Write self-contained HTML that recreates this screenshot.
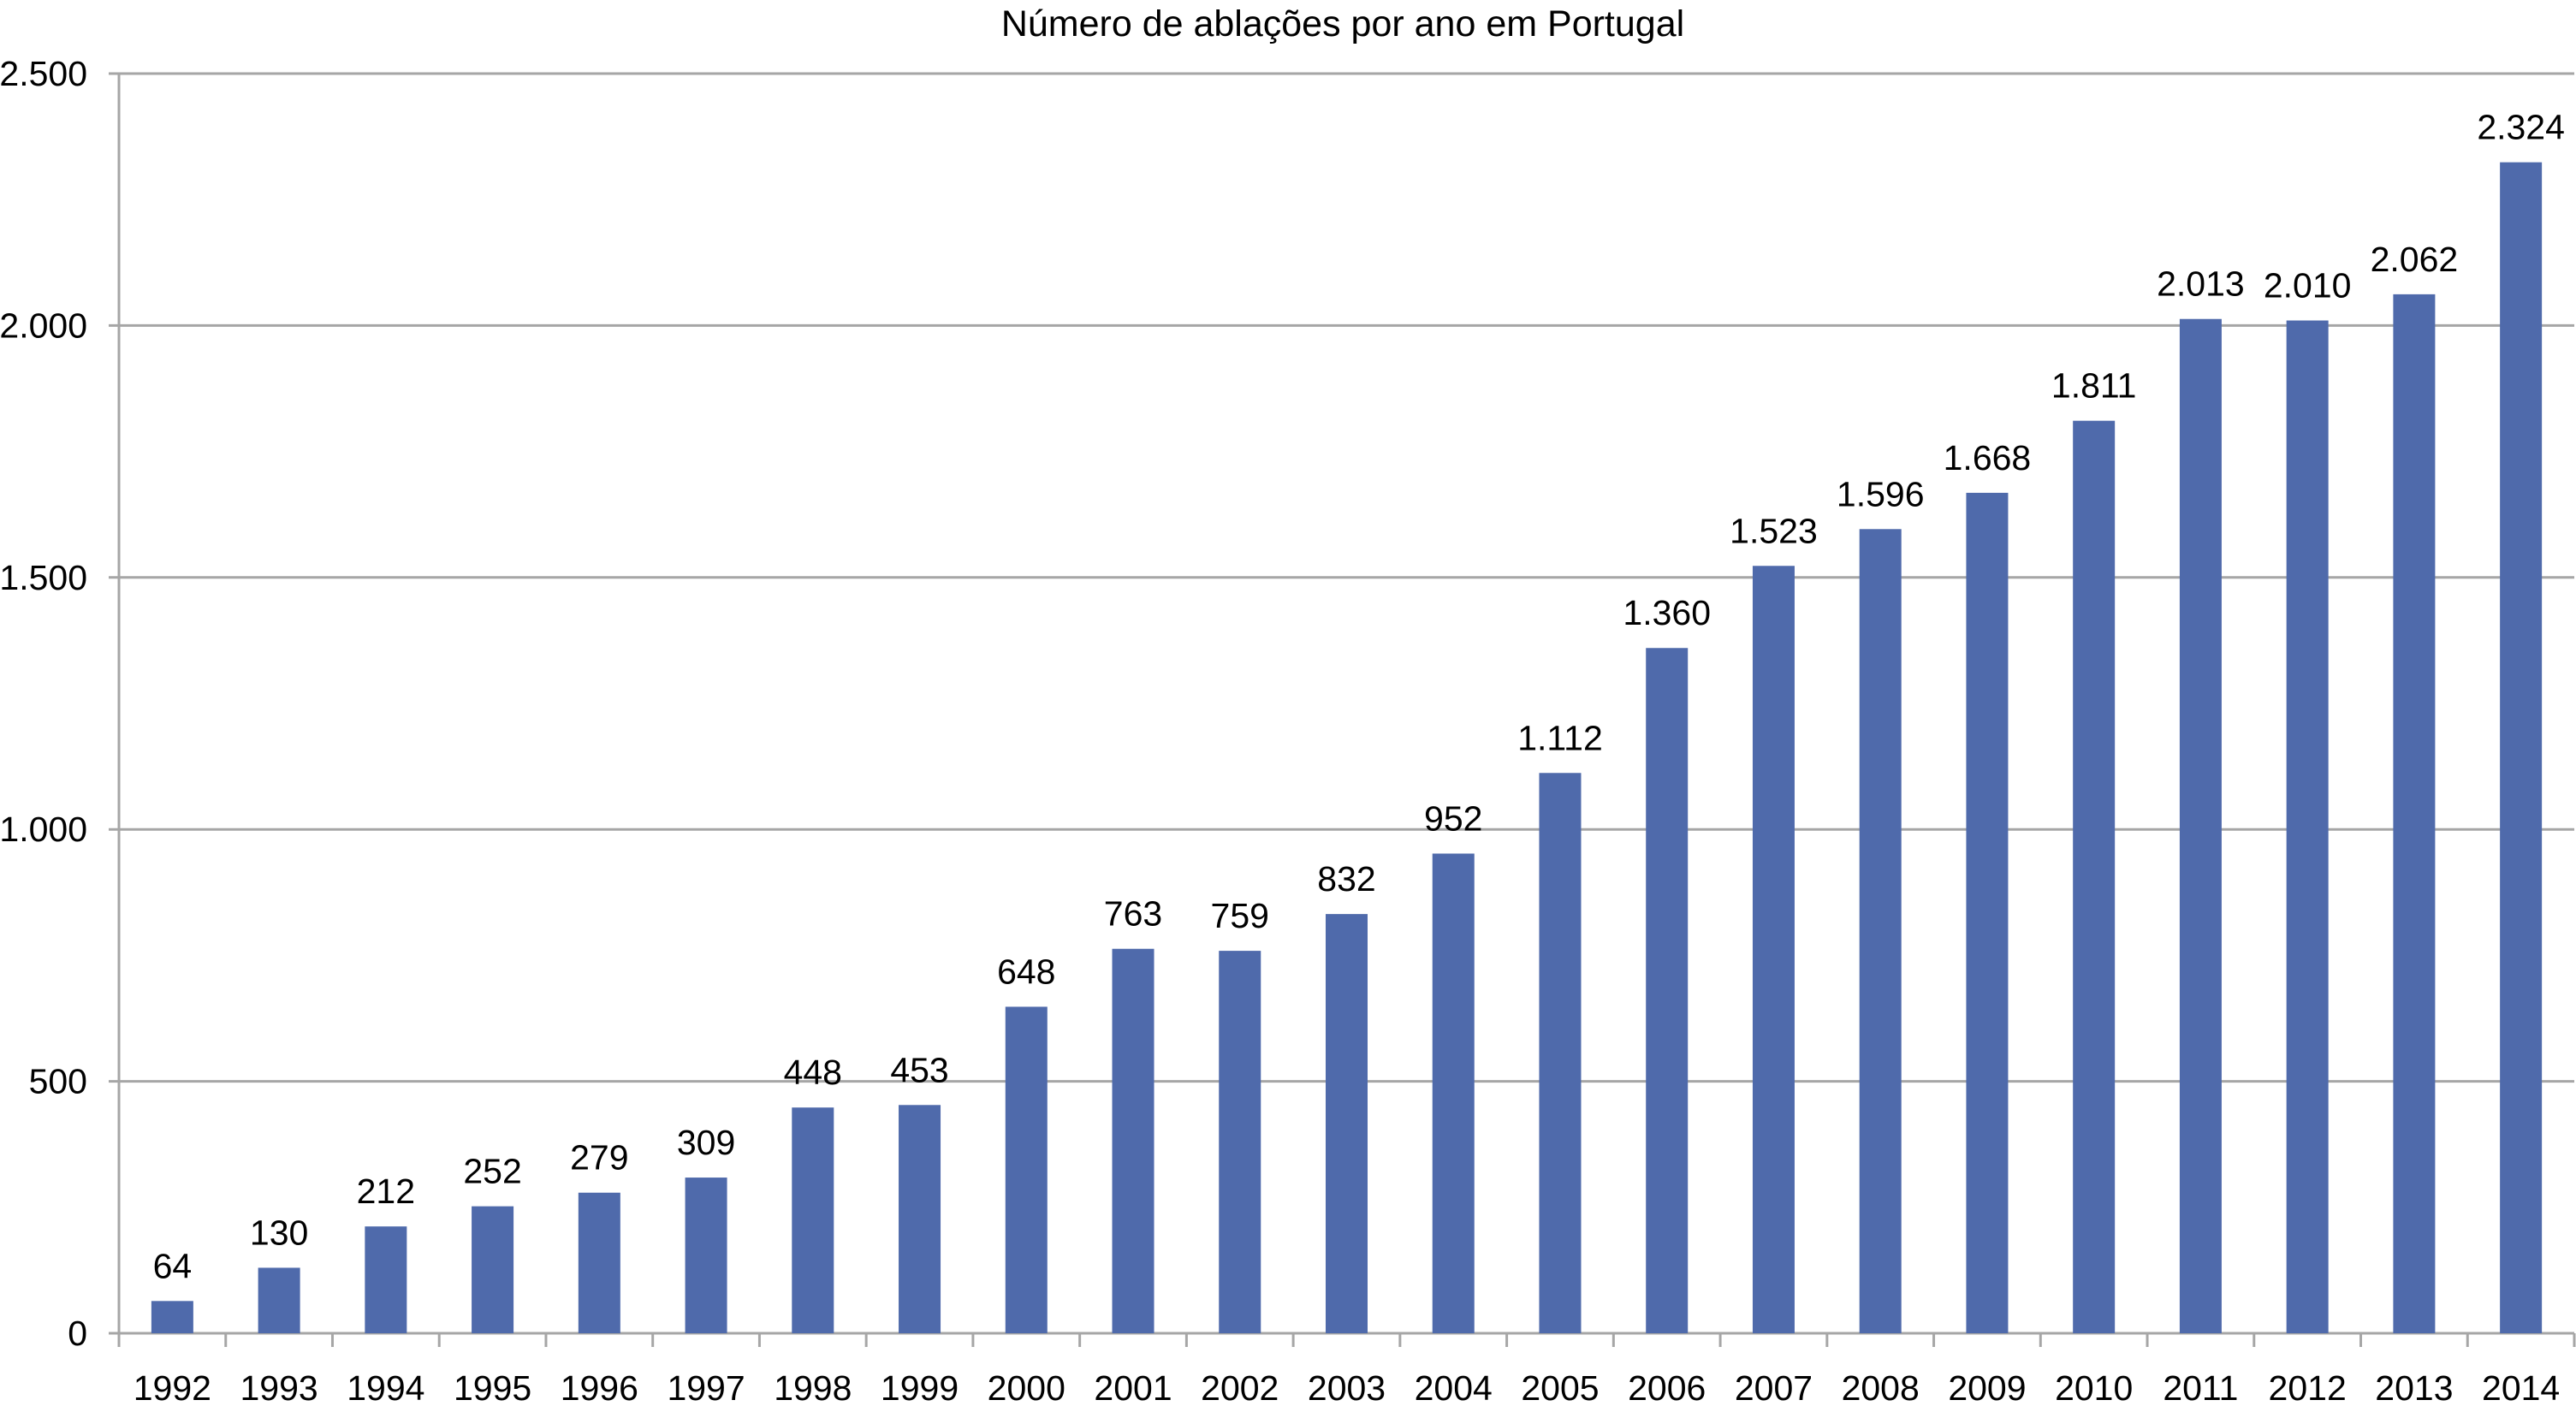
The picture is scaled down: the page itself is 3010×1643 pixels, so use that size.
<!DOCTYPE html>
<html><head><meta charset="utf-8"><style>
html,body{margin:0;padding:0;background:#fff;}
svg{display:block;font-family:"Liberation Sans",Arial,sans-serif;}
</style></head><body>
<svg id="chart" width="3010" height="1643" viewBox="0 0 3010 1643">
<text x="1569" y="42" font-size="43" text-anchor="middle" fill="#000">Número de ablações por ano em Portugal</text>
<g id="grid"></g><g id="bars"></g><g id="axes"></g>
</svg>
<script>
const categories=["1992","1993","1994","1995","1996","1997","1998","1999","2000","2001","2002","2003","2004","2005","2006","2007","2008","2009","2010","2011","2012","2013","2014"];
const values=[64,130,212,252,279,309,448,453,648,763,759,832,952,1112,1360,1523,1596,1668,1811,2013,2010,2062,2324];
const valueLabels=["64","130","212","252","279","309","448","453","648","763","759","832","952","1.112","1.360","1.523","1.596","1.668","1.811","2.013","2.010","2.062","2.324"];
const yTicks=[0,500,1000,1500,2000,2500];
const yTickLabels=["0","500","1.000","1.500","2.000","2.500"];
const NS="http://www.w3.org/2000/svg";
const X0=139,X1=3008,Y0=1558,Y1=86,YMAX=2500;
const band=(X1-X0)/categories.length;
function y(v){return Y0-(v/YMAX)*(Y0-Y1);}
function xc(i){return X0+band*(i+0.5);}
function mk(tag,attrs,parent){const e=document.createElementNS(NS,tag);for(const k in attrs)e.setAttribute(k,attrs[k]);parent.appendChild(e);return e;}
const grid=document.getElementById('grid'),bars=document.getElementById('bars'),axes=document.getElementById('axes');
yTicks.forEach((t,i)=>{
  const l=mk('line',{x1:127,x2:X1,y1:y(t),y2:y(t),stroke:'#a6a6a6','stroke-width':3},grid);
  
  
  const tx=mk('text',{x:102,y:y(t)+14,'font-size':41,'text-anchor':'end',fill:'#000'},axes);
  tx.textContent=yTickLabels[i];
  
  
});
const ya=mk('line',{x1:X0,x2:X0,y1:Y1,y2:Y0+16,stroke:'#a6a6a6','stroke-width':3},axes);


for(let i=0;i<=categories.length;i++){
  const tk=mk('line',{x1:X0+band*i,x2:X0+band*i,y1:Y0,y2:Y0+16,stroke:'#a6a6a6','stroke-width':3},axes);
  
  
}
const bw=49;
categories.forEach((c,i)=>{
  const r=mk('rect',{x:xc(i)-bw/2,y:y(values[i]),width:bw,height:Y0-y(values[i]),fill:'#4f6aab'},bars);
  
  
  const vl=mk('text',{x:xc(i),y:y(values[i])-27,'font-size':41,'text-anchor':'middle',fill:'#000'},bars);
  vl.textContent=valueLabels[i];
  
  
  const xl=mk('text',{x:xc(i),y:1636,'font-size':41,'text-anchor':'middle',fill:'#000'},axes);
  xl.textContent=c;
  
  
});
</script>
</body></html>
